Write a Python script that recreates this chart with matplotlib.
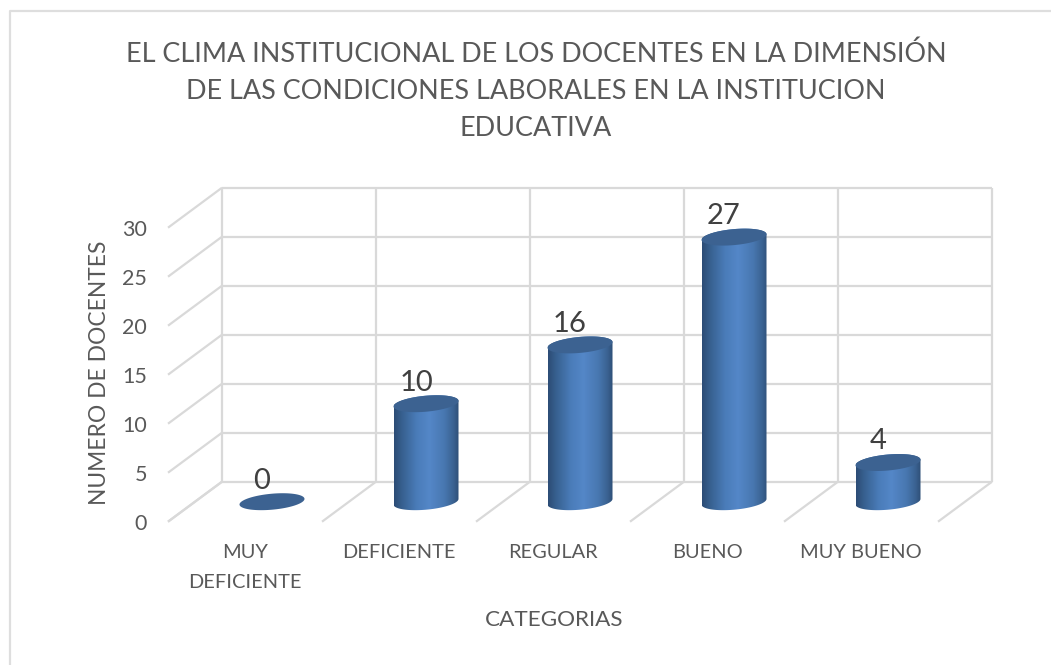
import numpy as np
import matplotlib
matplotlib.use("Agg")
import matplotlib.pyplot as plt
from matplotlib.colors import LinearSegmentedColormap
from matplotlib.patches import Polygon

categories = ["MUY\nDEFICIENTE", "DEFICIENTE", "REGULAR", "BUENO", "MUY BUENO"]
values = [0, 10, 16, 27, 4]
y_ticks = [0, 5, 10, 15, 20, 25, 30]
title = ("EL CLIMA INSTITUCIONAL DE LOS DOCENTES EN LA DIMENSIÓN\n"
         "DE LAS CONDICIONES LABORALES EN LA INSTITUCION\n"
         "EDUCATIVA")
x_label = "CATEGORIAS"
y_label = "NUMERO DE DOCENTES"

W, H = 1051, 665
plt.rcParams["font.family"] = ["Lato", "DejaVu Sans"]
fig = plt.figure(figsize=(W / 100, H / 100), dpi=100, facecolor="white")

# frame of the chart area (top and left edges only are visible)
fig.add_artist(plt.Line2D([9.5 / W, 9.5 / W, 1], [0, 1 - 10.5 / H, 1 - 10.5 / H],
                          color="#dedede", lw=1.6))

# axes: front plane of the 3-D box plus the depth offset
PX_LEFT, PX_RIGHT, PX_TOP, PX_BOTTOM = 168.0, 992.0, 187.7, 521.7
ax = fig.add_axes([PX_LEFT / W, 1 - PX_BOTTOM / H, (PX_RIGHT - PX_LEFT) / W, (PX_BOTTOM - PX_TOP) / H])
PX_PER_CAT, PX_PER_VAL = 154.0, 9.8
DX, DY = 54.0 / PX_PER_CAT, 40.0 / PX_PER_VAL
n = len(categories)
ax.set_xlim(-0.5, n - 0.5 + DX)
ax.set_ylim(0, y_ticks[-1] + DY)
ax.patch.set_alpha(0)
for s in ax.spines.values():
    s.set_visible(False)

GRID = dict(color="#d9d9d9", lw=1.6, zorder=1, solid_capstyle="butt", clip_on=False)
for v in y_ticks:
    ax.plot([-0.5 + DX, n - 0.5 + DX], [v + DY, v + DY], **GRID)
    ax.plot([-0.5, -0.5 + DX], [v, v + DY], **GRID)
for k in range(n + 1):
    ax.plot([k - 0.5 + DX] * 2, [DY, y_ticks[-1] + DY], **GRID)
    ax.plot([k - 0.5, k - 0.5 + DX], [0, DY], **GRID)

# cylinders
A = 32.5 / PX_PER_CAT
B = 8.0 / PX_PER_VAL
SK = 2.8 / PX_PER_VAL
cmap = LinearSegmentedColormap.from_list(
    "cyl", [(0, "#2c4c75"), (0.12, "#37608f"), (0.35, "#4a7cb9"), (0.55, "#5487c8"),
            (0.78, "#4877b0"), (0.92, "#3a6291"), (1, "#2f4f78")])
grad = np.linspace(0, 1, 128).reshape(1, -1)
tt = np.linspace(0, 2 * np.pi, 121)


def ell(cx, cy, t):
    return np.column_stack([cx + A * np.cos(t), cy + SK * np.cos(t) + B * np.sin(t)])


for i, v in enumerate(values):
    cx, base = i + DX / 2, DY / 2
    top = base + v
    if v > 0:
        body = np.vstack([ell(cx, top, np.linspace(np.pi, 0, 60)),
                          ell(cx, base, np.linspace(0, -np.pi, 60))])
        im = ax.imshow(grad, cmap=cmap, aspect="auto", zorder=3, interpolation="bilinear",
                       extent=(cx - A, cx + A, base - 2 * B, top + 2 * B))
        im.set_clip_path(Polygon(body, closed=True, transform=ax.transData))
    ax.add_patch(Polygon(ell(cx, top, tt), closed=True, fc="#3c6291", ec="none", zorder=4))
    ax.annotate(str(v), (cx, top), xytext=(-7.2, 15.2), textcoords="offset points",
                ha="center", va="center", fontsize=21, color="#404040", zorder=5)
ax.set_xlim(-0.5, n - 0.5 + DX)
ax.set_ylim(0, y_ticks[-1] + DY)

ax.set_yticks(y_ticks)
ax.set_yticklabels([str(v) for v in y_ticks], fontsize=15.5, color="#595959")
ax.set_xticks(range(n))
ax.set_xticklabels(categories, fontsize=14.4, color="#595959", linespacing=1.9)
ax.tick_params(axis="both", length=0)
ax.tick_params(axis="y", pad=15)
ax.tick_params(axis="x", pad=16)

fig.text(536 / W, 1 - 91.5 / H, title, ha="center", va="center", fontsize=19.45, color="#595959", linespacing=1.6)
fig.text(554 / W, 1 - 620 / H, x_label, ha="center", va="center", fontsize=16.2, color="#595959")
fig.text(100 / W, 1 - 373 / H, y_label, ha="center", va="center", rotation=90, fontsize=16.4, color="#595959")

fig.savefig("out.png", dpi=100)
